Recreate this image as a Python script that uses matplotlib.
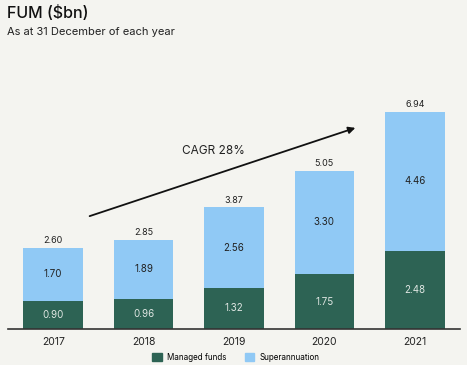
import matplotlib.pyplot as plt
import numpy as np
from matplotlib.patches import Patch

years = ["2017", "2018", "2019", "2020", "2021"]
managed_funds = [0.90, 0.96, 1.32, 1.75, 2.48]
superannuation = [1.70, 1.89, 2.56, 3.30, 4.46]
totals = [2.60, 2.85, 3.87, 5.05, 6.94]

bg = "#f4f4f0"
green = "#2d6354"
blue = "#90c9f5"

plt.rcParams["font.family"] = ["Inter", "DejaVu Sans"]

fig = plt.figure(figsize=(4.67, 3.65), dpi=100, facecolor=bg)
W, H = 467, 365

# axes placed in pixel terms: x 8..460, baseline at y=329
ax = fig.add_axes([8 / W, (H - 329) / H, 452 / W, 235 / H], facecolor=bg)
x = np.arange(len(years))
ax.bar(x, managed_funds, width=0.66, color=green, zorder=2)
ax.bar(x, superannuation, width=0.66, bottom=managed_funds, color=blue, zorder=2)

for i in range(len(years)):
    ax.text(x[i], managed_funds[i] / 2, f"{managed_funds[i]:.2f}", ha="center", va="center",
            fontsize=7, color="#dfe6e2")
    ax.text(x[i], managed_funds[i] + superannuation[i] / 2, f"{superannuation[i]:.2f}",
            ha="center", va="center", fontsize=7, color="#222222")
    ax.text(x[i], totals[i] + 0.08, f"{totals[i]:.2f}", ha="center", va="bottom",
            fontsize=6.5, color="#222222")

ax.set_xlim(-0.5, 4.5)
ax.set_ylim(0, 7.5)
for s in ["top", "right", "left"]:
    ax.spines[s].set_visible(False)
ax.spines["bottom"].set_color("#333333")
ax.spines["bottom"].set_linewidth(1.2)
ax.set_yticks([])
ax.set_xticks(x)
ax.set_xticklabels(years, fontsize=7.5, color="#222222")
ax.tick_params(axis="x", length=0, pad=6)

# CAGR arrow
ax.annotate("", xy=(358 / W, 1 - 127 / H), xytext=(87 / W, 1 - 217 / H),
            xycoords="figure fraction", textcoords="figure fraction",
            arrowprops=dict(arrowstyle="-|>", color="#111111", lw=1.3, mutation_scale=10))
fig.text(213 / W, 1 - 151 / H, "CAGR 28%", ha="center", va="center", fontsize=8.5, color="#222222")

fig.text(7 / W, 1 - 13 / H, "FUM ($bn)", ha="left", va="center", fontsize=11.5,
         fontweight="medium", color="#111111")
fig.text(7 / W, 1 - 32 / H, "As at 31 December of each year", ha="left", va="center",
         fontsize=8, color="#222222")

handles = [Patch(color=green, label="Managed funds"), Patch(color=blue, label="Superannuation")]
fig.legend(handles=handles, loc="center", bbox_to_anchor=(236 / W, 1 - 357 / H), ncol=2,
           frameon=False, fontsize=5.8, handlelength=1.2, handleheight=1.2,
           handletextpad=0.7, columnspacing=2.2)

fig.savefig("out.png", dpi=100, facecolor=bg)
